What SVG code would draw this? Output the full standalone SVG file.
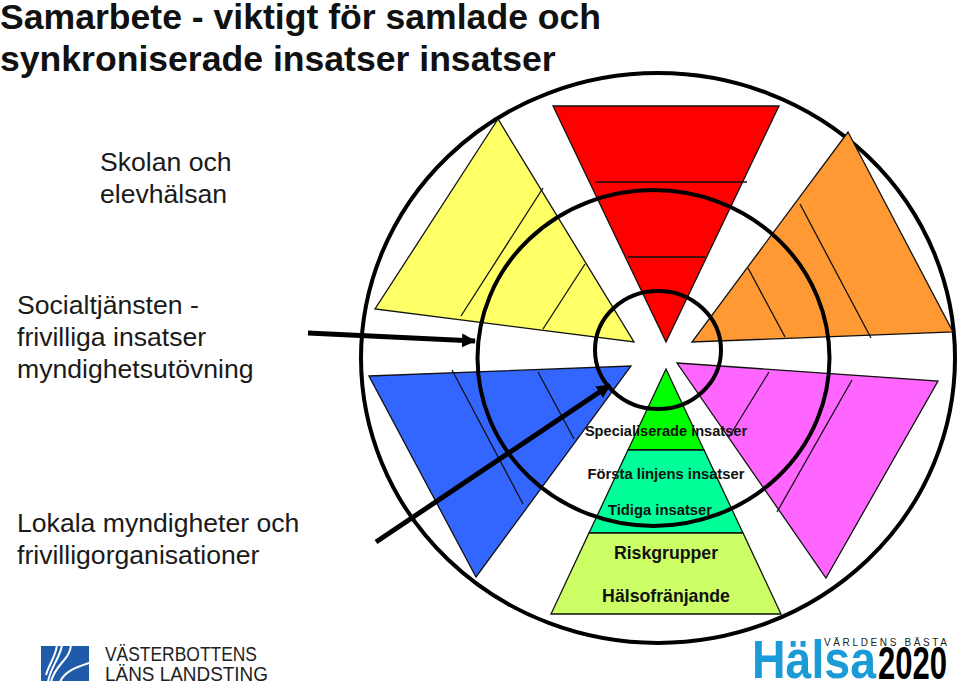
<svg xmlns="http://www.w3.org/2000/svg" width="960" height="684" viewBox="0 0 960 684">
<style>
.t{font-family:"Liberation Sans",Arial,sans-serif;fill:#000}
.h{font-size:35.600px;font-weight:bold;fill:#111}
.b{font-size:26.600px;fill:#1a1a1a}
.p{font-weight:bold;text-anchor:middle;fill:#111}
.d{fill:#222}
.hb{fill:#1a9ad7;font-weight:bold}
.tri{stroke:#111;stroke-width:1.3}
.thin{stroke:#111;stroke-width:1.3;fill:none}
.ring{fill:none;stroke:#000}
.arr{stroke:#000;stroke-width:5;fill:none}
.sw{stroke:#fff;stroke-width:2;fill:none}
</style>
<defs>
<marker id="ah" markerUnits="userSpaceOnUse" markerWidth="16" markerHeight="16" refX="13" refY="7" orient="auto"><path d="M0 0L14 7L0 14Z" fill="#000"/></marker>
</defs>
<rect width="960" height="684" fill="#fff"/>
<g id="title"><text class="t h" x="0" y="29">Samarbete - viktigt för samlade och</text><text class="t h" x="0" y="71">synkroniserade insatser insatser</text></g>
<g id="labels">
<text class="t b" x="100" y="171">Skolan och</text><text class="t b" x="100" y="203">elevhälsan</text>
<text class="t b" x="17" y="314">Socialtjänsten -</text><text class="t b" x="17" y="346">frivilliga insatser</text><text class="t b" x="17" y="378">myndighetsutövning</text>
<text class="t b" x="17" y="532">Lokala myndigheter och</text><text class="t b" x="17" y="564">frivilligorganisationer</text>
</g>
<g id="outer-ring"><ellipse class="ring" cx="658" cy="358" rx="297" ry="285" stroke-width="4"/></g>
<g id="red"><path class="tri" fill="#f00" d="M553 106H779L666 342Z"/><path class="thin" d="M595 182H747M628 257H705"/></g>
<g id="yellow"><path class="tri" fill="#ff6" d="M498 119L375 309L634 342Z"/><path class="thin" d="M543 188L461 316M585 264L543 329"/></g>
<g id="orange"><path class="tri" fill="#f93" d="M848 132L953 332L692 342Z"/><path class="thin" d="M800 204L871 338M748 268L785 337"/></g>
<g id="blue"><path class="tri" fill="#36f" d="M369 376L631 366L476 577Z"/><path class="thin" d="M452 370L523 504M538 372L574 439"/></g>
<g id="magenta"><path class="tri" fill="#f6f" d="M677 363L938 381L826 578Z"/><path class="thin" d="M769 372L729 437M852 380L777 512"/></g>
<g id="pyramid">
<path class="tri" fill="#0f0" d="M666 369L704 450H628Z"/>
<path class="tri" fill="#0f9" d="M628 450H704L743 533H589Z"/>
<path class="tri" fill="#cf6" d="M589 533H743L781 614H551Z"/>
</g>
<g id="rings"><ellipse class="ring" cx="653.500" cy="358" rx="176" ry="168" stroke-width="4"/><ellipse class="ring" cx="658" cy="350" rx="63" ry="59" stroke-width="4"/></g>
<g id="pyramid-labels">
<text class="t p" x="666" y="436" font-size="14.600">Specialiserade insatser</text>
<text class="t p" x="666" y="479" font-size="14.800">Första linjens insatser</text>
<text class="t p" x="660" y="515" font-size="14.800">Tidiga insatser</text>
<text class="t p" x="666" y="559" font-size="17.700">Riskgrupper</text>
<text class="t p" x="666" y="602" font-size="17.700">Hälsofränjande</text>
</g>
<g id="connectors"><path class="arr" marker-end="url(#ah)" d="M308 333L475 341"/><path class="arr" marker-end="url(#ah)" d="M376 542L610 385"/></g>
<g id="logo-vll">
<rect x="41" y="646" width="48" height="35" fill="#1f5ba8"/>
<path class="sw" d="M57 645C56 656 49 664 46 675M71 645C70 660 55 664 51 682M89 663C80 666 65 670 60 682M62 645C60 658 50 668 48 682"/>
<text class="t d" x="105" y="661" font-size="19.500" textLength="152" lengthAdjust="spacingAndGlyphs">VÄSTERBOTTENS</text>
<text class="t d" x="105" y="681" font-size="19.500" textLength="163" lengthAdjust="spacingAndGlyphs">LÄNS LANDSTING</text>
</g>
<g id="logo-halsa">
<text class="t hb" x="752" y="678" font-size="54" textLength="124" lengthAdjust="spacingAndGlyphs">Hälsa</text>
<text class="t" x="878" y="679" font-size="47" font-weight="bold" fill="#111" textLength="69" lengthAdjust="spacingAndGlyphs">2020</text>
<text class="t d" x="824" y="646" font-size="10" textLength="123" lengthAdjust="spacing">VÄRLDENS BÄSTA</text>
</g>
</svg>
